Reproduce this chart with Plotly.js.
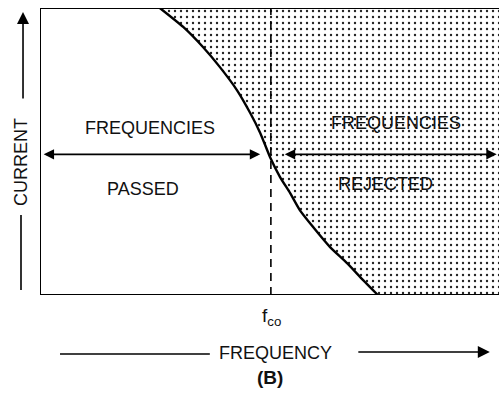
<!DOCTYPE html>
<html><head><meta charset="utf-8">
<script src="https://cdn.plot.ly/plotly-3.0.1.min.js"></script>
<style>html,body{margin:0;padding:0;background:#fff;}#chart{width:499px;height:394px;}</style>
</head><body><div id="chart"></div>
<script>
// Response curve (frequency units 0..100, current units 0..100)
const curveX = [26.1, 31.2, 35.5, 39.2, 42.9, 45.8, 48.0, 50.1, 52.3, 54.5, 56.6, 59.5, 63.2, 66.9, 70.4, 73.6];
const curveY = [100, 93.4, 86.4, 79.4, 71.4, 63.4, 56.4, 48.1, 41.1, 35.5, 29.6, 23.7, 16.7, 11.1, 5.2, 0];
const fco = 50.3;
const arrowLevel = 49;
const xMax = 100, yMax = 100;
const regionLabels = ["FREQUENCIES", "PASSED", "FREQUENCIES", "REJECTED"];
const regionX = [24.0, 22.4, 77.6, 75.2];
const regionY = [58.2, 36.9, 59.9, 38.7];

const font = {family: "Liberation Sans, Arial, sans-serif", size: 18, color: "#111"};

// shaded (rejected) region: right of the curve
const shadeX = curveX.concat([xMax, xMax, curveX[0]]);
const shadeY = curveY.concat([0, yMax, curveY[0]]);

const traces = [
  {x: shadeX, y: shadeY, mode: "lines", fill: "toself", line: {width: 0, color: "rgba(0,0,0,0)"},
   fillcolor: "white",
   fillpattern: {shape: ".", fgcolor: "#222", bgcolor: "white", size: 6, solidity: 0.12},
   hoverinfo: "skip", showlegend: false},
  {x: curveX, y: curveY, mode: "lines", line: {color: "#000", width: 2.4, shape: "spline", smoothing: 0.5},
   hoverinfo: "skip", showlegend: false}
];

const annotations = regionLabels.map((t, i) => ({
  x: regionX[i], y: regionY[i], xref: "x", yref: "y", text: t, showarrow: false, font: font,
  xanchor: "center", yanchor: "middle"
}));

// horizontal double arrows
annotations.push({x: 0.8, y: arrowLevel, ax: 48.3, ay: arrowLevel, xref: "x", yref: "y", axref: "x", ayref: "y",
  text: "", showarrow: true, arrowside: "start+end", arrowhead: 2, arrowsize: 1.3, arrowwidth: 1.6, arrowcolor: "#000"});
annotations.push({x: 99.5, y: arrowLevel, ax: 53.0, ay: arrowLevel, xref: "x", yref: "y", axref: "x", ayref: "y",
  text: "", showarrow: true, arrowside: "start+end", arrowhead: 2, arrowsize: 1.3, arrowwidth: 1.6, arrowcolor: "#000"});

// axis labels
annotations.push({x: -0.0414, y: 0.463, xref: "paper", yref: "paper", text: "CURRENT", textangle: -90,
  showarrow: false, font: font, xanchor: "center", yanchor: "middle"});
annotations.push({x: -0.037, y: 0.986, xref: "paper", yref: "paper", text: "", showarrow: true,
  ax: 0, ay: 88, arrowhead: 2, arrowsize: 1.5, arrowwidth: 1.6, arrowcolor: "#000"});
annotations.push({x: 0.514, y: -0.202, xref: "paper", yref: "paper", text: "FREQUENCY", showarrow: false, font: font,
  xanchor: "center", yanchor: "middle"});
annotations.push({x: 0.980, y: -0.1986, xref: "paper", yref: "paper", text: "", showarrow: true,
  ax: -133, ay: 0, arrowhead: 2, arrowsize: 1.5, arrowwidth: 1.6, arrowcolor: "#000"});
annotations.push({x: 0.505, y: -0.075, xref: "paper", yref: "paper", text: "f<sub>co</sub>", showarrow: false,
  font: {family: font.family, size: 19, color: "#111"}, xanchor: "center", yanchor: "middle"});
annotations.push({x: 0.501, y: -0.286, xref: "paper", yref: "paper", text: "<b>(B)</b>", showarrow: false,
  font: {family: font.family, size: 19, color: "#111"}, xanchor: "center", yanchor: "middle"});

const shapes = [
  {type: "line", xref: "x", yref: "y", x0: 0, x1: 0, y0: 0, y1: yMax, line: {color: "#000", width: 2}},
  {type: "line", xref: "x", yref: "y", x0: 0, x1: xMax, y0: 0, y1: 0, line: {color: "#000", width: 2}},
  {type: "line", xref: "x", yref: "y", x0: 0, x1: xMax, y0: yMax, y1: yMax, line: {color: "#000", width: 2}},
  {type: "line", xref: "x", yref: "y", x0: fco, x1: fco, y0: 0, y1: yMax, line: {color: "#000", width: 1.6, dash: "8px,6px"}},
  {type: "line", xref: "paper", yref: "paper", x0: -0.0414, x1: -0.0414, y0: 0.279, y1: 0.0174, line: {color: "#000", width: 1.6}},
  {type: "line", xref: "paper", yref: "paper", x0: 0.0436, x1: 0.370, y0: -0.2056, y1: -0.2056, line: {color: "#000", width: 1.6}}
];

const layout = {
  width: 499, height: 394,
  margin: {l: 40, r: 0, t: 8, b: 99},
  paper_bgcolor: "white", plot_bgcolor: "white",
  xaxis: {range: [0, xMax], visible: false, fixedrange: true},
  yaxis: {range: [0, yMax], visible: false, fixedrange: true},
  annotations: annotations, shapes: shapes, showlegend: false
};

Plotly.newPlot("chart", traces, layout, {staticPlot: true});
</script>
</body></html>
